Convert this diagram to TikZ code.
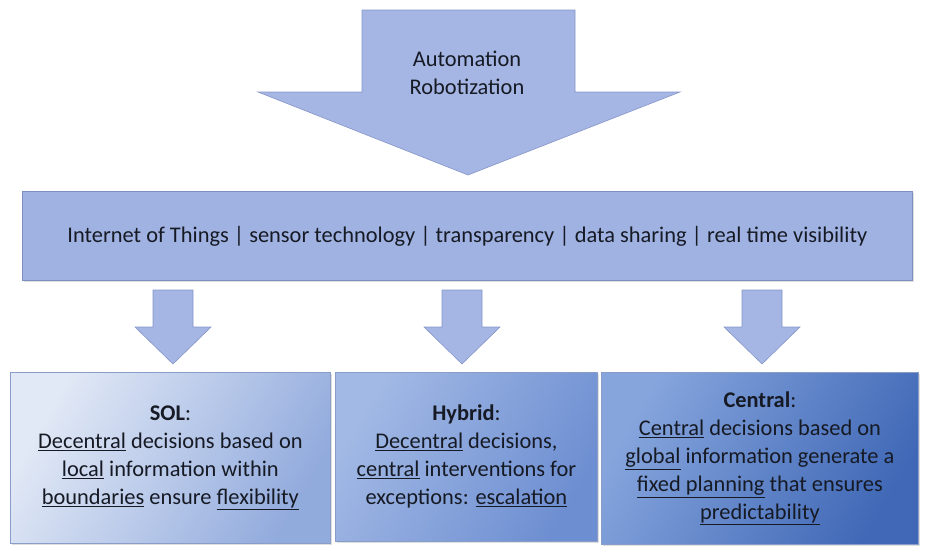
\documentclass[tikz,border=0pt]{standalone}
\usepackage{fontspec}
\setmainfont{Carlito}
\usetikzlibrary{shadows}
\definecolor{arrowfill}{HTML}{A5B6E4}
\definecolor{arrowline}{HTML}{8595C8}
\definecolor{iotfill}{HTML}{A0B2E2}
\definecolor{iotline}{HTML}{7E8EBF}
\definecolor{boxline}{HTML}{8A9CC8}
\definecolor{aL}{HTML}{E2E9F6}
\definecolor{aR}{HTML}{92ABDD}
\definecolor{bL}{HTML}{A2B9E5}
\definecolor{bR}{HTML}{6D8ED1}
\definecolor{cL}{HTML}{86A5DD}
\definecolor{cR}{HTML}{4068B6}
\definecolor{txt}{HTML}{161A24}
\begin{document}
\begin{tikzpicture}[x=1pt,y=-1pt,
  blockarrow/.style={fill=arrowfill,draw=arrowline,line width=0.6pt,line join=miter},
  txtnode/.style={text=txt,align=center,font=\fontsize{22.4}{27.5}\selectfont},
  panel/.style={draw=boxline,line width=0.8pt,anchor=north west,inner sep=0pt,
    text=txt,align=center,font=\fontsize{22.4}{28}\selectfont,
    drop shadow={opacity=0.25,shadow xshift=1.5pt,shadow yshift=-1.5pt}}]
\useasboundingbox (0,0) rectangle (925,546);
% big arrow
\draw[blockarrow] (362,10) -- (575,10) -- (575,92) -- (680,92) -- (468,175) -- (258,92) -- (362,92) -- cycle;
\node[txtnode] (auto) at (467,73) {Automation\\Robotization};
% IoT bar
\node[panel,fill=iotfill,draw=iotline,minimum width=890pt,minimum height=89pt] (iot) at (22,191)
  {Internet of Things | sensor technology | transparency | data sharing | real time visibility};
% small arrows
\foreach \cx/\nm in {173/a1,462/a2,762/a3}{
  \draw[blockarrow] (\cx-20,290) -- (\cx+20,290) -- (\cx+20,327) -- (\cx+38,327) -- (\cx,364) -- (\cx-38,327) -- (\cx-20,327) -- cycle;
}
% bottom panels
\node[panel,left color=aL,right color=aR,shading angle=60,minimum width=320pt,minimum height=171pt] (sol) at (10,372)
  {\textbf{SOL}:\\\underline{Decentral} decisions based on\\\underline{local} information within\\\underline{boundaries} ensure \underline{flexibility}};
\node[panel,left color=bL,right color=bR,shading angle=60,minimum width=262pt,minimum height=169pt] (hyb) at (335,372)
  {\textbf{Hybrid}:\\\underline{Decentral} decisions,\\\underline{central} interventions for\\exceptions: \underline{escalation}};
\node[panel,left color=cL,right color=cR,shading angle=60,minimum width=317pt,minimum height=172pt] (cen) at (601,372)
  {\textbf{Central}:\\\underline{Central} decisions based on\\\underline{global} information generate a\\\underline{fixed planning} that ensures\\\underline{predictability}};
\end{tikzpicture}
\end{document}
